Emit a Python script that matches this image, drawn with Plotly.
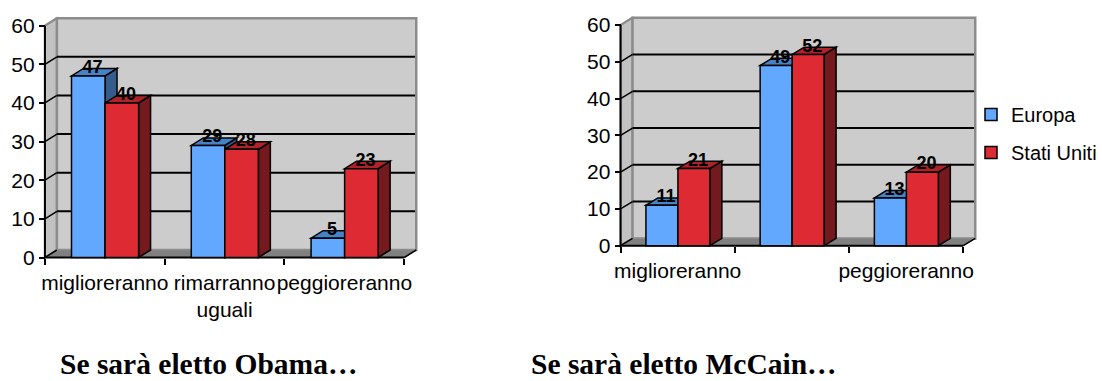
import plotly.graph_objects as go

WIDTH, HEIGHT = 1102, 381
SANS = "Liberation Sans"
SERIF = "Liberation Serif"

series_names = ["Europa", "Stati Uniti"]
y_ticks = [0, 10, 20, 30, 40, 50, 60]
obama_labels = ["miglioreranno", "rimarranno<br>uguali", "peggioreranno"]
mccain_labels = ["miglioreranno", "", "peggioreranno"]
obama_europa = [47, 29, 5]
obama_usa = [40, 28, 23]
mccain_europa = [11, 49, 13]
mccain_usa = [21, 52, 20]
obama_title = "Se sarà eletto Obama…"
mccain_title = "Se sarà eletto McCain…"

FRONT = ["#62A8FF", "#DE2B33"]
TOP = ["#4682C6", "#AE2329"]
SIDE = ["#365C8C", "#741A1E"]
WALL = "#CCCCCC"
LEFT_WALL = "#C2C2C2"
FLOOR = "#808080"
EDGE = "#8C8C8C"
INK = "#000000"
BAR_START = 0.222
BAR_WIDTH = 0.28
PAD = 5

fig = go.Figure()
shapes = []


def polygon(xa, ya, points, fill, line=INK, width=1.5):
    path = "M" + " L".join(f"{x},{y}" for x, y in points) + " Z"
    shapes.append(dict(type="path", path=path, xref=xa, yref=ya, fillcolor=fill,
                       line=dict(color=line, width=width), layer="below"))


def segment(xa, ya, p, q, color=INK, width=1.5):
    shapes.append(dict(type="line", xref=xa, yref=ya, x0=p[0], y0=p[1], x1=q[0], y1=q[1],
                       line=dict(color=color, width=width), layer="below"))


def panel(idx, x0, x3, y0, y60, dx, dy, labels, europa, usa, legend):
    """Draw one pseudo-3D column panel; front plane spans x0..x3 and y0..y60 in pixels."""
    sfx = "" if idx == 1 else str(idx)
    xa, ya = "x" + sfx, "y" + sfx
    ux = (x3 - x0) / 3
    uy = (y0 - y60) / 60
    ddx, ddy = dx / ux, dy / uy
    xmax, ymax = 3 + ddx, 60 + ddy

    fig.layout[f"xaxis{sfx}"] = dict(
        domain=[(x0 - PAD) / WIDTH, (x3 + dx + PAD) / WIDTH],
        range=[-PAD / ux, xmax + PAD / ux], automargin=False,
        anchor="free", position=1 - y0 / HEIGHT, showgrid=False, zeroline=False,
        tickmode="array", tickvals=[0.5, 1.5, 2.5], ticktext=labels, ticks="",
        tickangle=0, ticklabelstandoff=10, tickfont=dict(family=SANS, size=21, color=INK),
        minor=dict(tickmode="array", tickvals=[0, 1, 2, 3], ticks="outside",
                   ticklen=6, tickwidth=1.5, tickcolor=INK, showgrid=False),
    )
    fig.layout[f"yaxis{sfx}"] = dict(
        domain=[1 - (y0 + PAD) / HEIGHT, 1 - (y60 - dy - PAD) / HEIGHT],
        range=[-PAD / uy, ymax + PAD / uy], automargin=False,
        anchor="free", position=x0 / WIDTH, showgrid=False, zeroline=False,
        tickmode="array", tickvals=y_ticks, ticks="outside", ticklen=6, tickwidth=1.5,
        tickcolor=INK, tickfont=dict(family=SANS, size=21, color=INK),
    )

    # Chart walls and floor
    polygon(xa, ya, [(0, 0), (ddx, ddy), (ddx, ymax), (0, 60)], LEFT_WALL, EDGE, 2)
    polygon(xa, ya, [(ddx, ddy), (xmax, ddy), (xmax, ymax), (ddx, ymax)], WALL, EDGE, 2.5)
    polygon(xa, ya, [(0, 0), (3, 0), (xmax, ddy), (ddx, ddy)], FLOOR, EDGE, 1)
    segment(xa, ya, (3, 0), (xmax, ddy))

    # Gridlines run along the left wall and the back wall
    for tick in y_ticks[:-1]:
        segment(xa, ya, (0, tick), (ddx, tick + ddy))
        if tick:
            segment(xa, ya, (ddx, tick + ddy), (xmax - 0.01, tick + ddy), width=2)
    segment(xa, ya, (0, 60), (ddx, ymax), EDGE, 2)

    # Top and side faces of the columns, back to front
    for s, values in enumerate((europa, usa)):
        for c, v in enumerate(values):
            left = c + BAR_START + s * BAR_WIDTH
            right = left + BAR_WIDTH
            polygon(xa, ya, [(right, 0), (right + ddx, ddy), (right + ddx, v + ddy), (right, v)], SIDE[s])
            polygon(xa, ya, [(left, v), (right, v), (right + ddx, v + ddy), (left + ddx, v + ddy)], TOP[s])

    # Front faces
    for s, values in enumerate((europa, usa)):
        fig.add_trace(go.Bar(
            x=[c + 0.5 for c in range(3)], y=values, xaxis=xa, yaxis=ya,
            offset=BAR_START - 0.5 + s * BAR_WIDTH, width=BAR_WIDTH,
            marker=dict(color=FRONT[s], line=dict(color=INK, width=1.5)),
            name=series_names[s], showlegend=legend, legendgroup=series_names[s],
            hoverinfo="skip",
        ))
        fig.add_trace(go.Scatter(
            x=[c + BAR_START + (s + 0.5) * BAR_WIDTH + ddx * 0.35 for c in range(3)],
            y=[v + ddy for v in values], xaxis=xa, yaxis=ya,
            mode="text", text=[str(v) for v in values], textposition="middle center",
            textfont=dict(family=SANS, size=18, color=INK, weight="bold"),
            showlegend=False, hoverinfo="skip",
        ))

    # Axis lines stay on the front plane
    segment(xa, ya, (0, 0), (0, 60), width=2)
    segment(xa, ya, (0, 0), (3, 0), width=2)


panel(1, 45, 405, 257.5, 25.7, 12, 7.5, obama_labels, obama_europa, obama_usa, False)
panel(2, 621.7, 965, 245.7, 25, 12, 7.3, mccain_labels, mccain_europa, mccain_usa, True)

fig.update_layout(
    width=WIDTH, height=HEIGHT, margin=dict(l=0, r=0, t=0, b=0),
    autosize=False, paper_bgcolor="#FFFFFF", plot_bgcolor="rgba(0,0,0,0)",
    barmode="overlay", shapes=shapes, hovermode=False,
    legend=dict(x=973 / WIDTH, xanchor="left", y=1 - 133.5 / HEIGHT, yanchor="middle",
                font=dict(family=SANS, size=20, color=INK), tracegroupgap=9,
                bgcolor="rgba(0,0,0,0)", itemclick=False, itemdoubleclick=False),
    annotations=[
        dict(text=f"<b>{obama_title}</b>", x=59 / WIDTH, y=0, xref="paper", yref="paper",
             xanchor="left", yanchor="bottom", showarrow=False, borderpad=0,
             font=dict(family=SERIF, size=29.5, color=INK)),
        dict(text=f"<b>{mccain_title}</b>", x=531 / WIDTH, y=0, xref="paper", yref="paper",
             xanchor="left", yanchor="bottom", showarrow=False, borderpad=0,
             font=dict(family=SERIF, size=29.5, color=INK)),
    ],
)

fig.write_html("out.html", config={"displayModeBar": False})
